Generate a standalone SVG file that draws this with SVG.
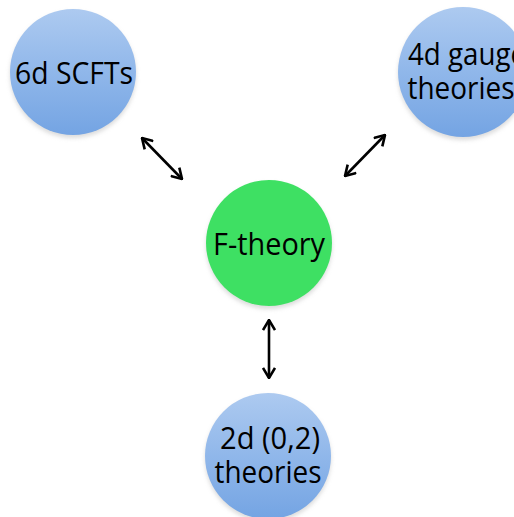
<svg xmlns="http://www.w3.org/2000/svg" width="514" height="517" viewBox="0 0 514 517">
  <defs>
    <linearGradient id="blueFill" x1="0" y1="0" x2="0" y2="1">
      <stop offset="0" stop-color="#adcaf0"/>
      <stop offset="0.5" stop-color="#90b7ea"/>
      <stop offset="1" stop-color="#74a4e3"/>
    </linearGradient>
    <filter id="shadow" x="-20%" y="-20%" width="140%" height="150%">
      <feGaussianBlur stdDeviation="2"/>
    </filter>
    <marker id="head" viewBox="0 0 12 14" refX="11" refY="7" markerWidth="12" markerHeight="14" markerUnits="userSpaceOnUse" orient="auto-start-reverse">
      <path d="M1,1 L11,7 L1,13" fill="none" stroke="#000" stroke-width="2.6" stroke-linejoin="miter"/>
    </marker>
  </defs>
  <style>
    .shadow { fill: #b9b9b9; opacity: 0.5; filter: url(#shadow); }
    .blue { fill: url(#blueFill); }
    .green { fill: #3ee063; }
    .label { font-family: "Open Sans", "Noto Sans", "Liberation Sans", sans-serif; font-size: 31px; fill: #000; text-anchor: middle; }
    .link { stroke: #000; stroke-width: 2.6; fill: none; marker-start: url(#head); marker-end: url(#head); }
  </style>

  <rect width="514" height="517" fill="#ffffff"/>

  <g id="connectors">
    <line class="link" x1="142" y1="138" x2="182" y2="179"/>
    <line class="link" x1="385" y1="135" x2="345" y2="176"/>
    <line class="link" x1="269" y1="320" x2="269" y2="378"/>
  </g>

  <g id="node-6d">
    <circle class="shadow" cx="73" cy="75" r="63"/>
    <circle class="blue" cx="73" cy="72" r="63"/>
    <text class="label" x="74" y="84" textLength="118" lengthAdjust="spacingAndGlyphs">6d SCFTs</text>
  </g>

  <g id="node-4d">
    <circle class="shadow" cx="463" cy="75" r="65"/>
    <circle class="blue" cx="463" cy="72" r="65"/>
    <text class="label" x="467" y="65" textLength="118" lengthAdjust="spacingAndGlyphs">4d gauge</text>
    <text class="label" x="461" y="99" textLength="107" lengthAdjust="spacingAndGlyphs">theories</text>
  </g>

  <g id="node-ftheory">
    <circle class="shadow" cx="269" cy="246" r="63"/>
    <circle class="green" cx="269" cy="243" r="63"/>
    <text class="label" x="269" y="255" textLength="112" lengthAdjust="spacingAndGlyphs">F-theory</text>
  </g>

  <g id="node-2d">
    <circle class="shadow" cx="268" cy="459" r="63"/>
    <circle class="blue" cx="268" cy="456" r="63"/>
    <text class="label" x="270" y="449" textLength="100" lengthAdjust="spacingAndGlyphs">2d (0,2)</text>
    <text class="label" x="268" y="483" textLength="107" lengthAdjust="spacingAndGlyphs">theories</text>
  </g>
</svg>
